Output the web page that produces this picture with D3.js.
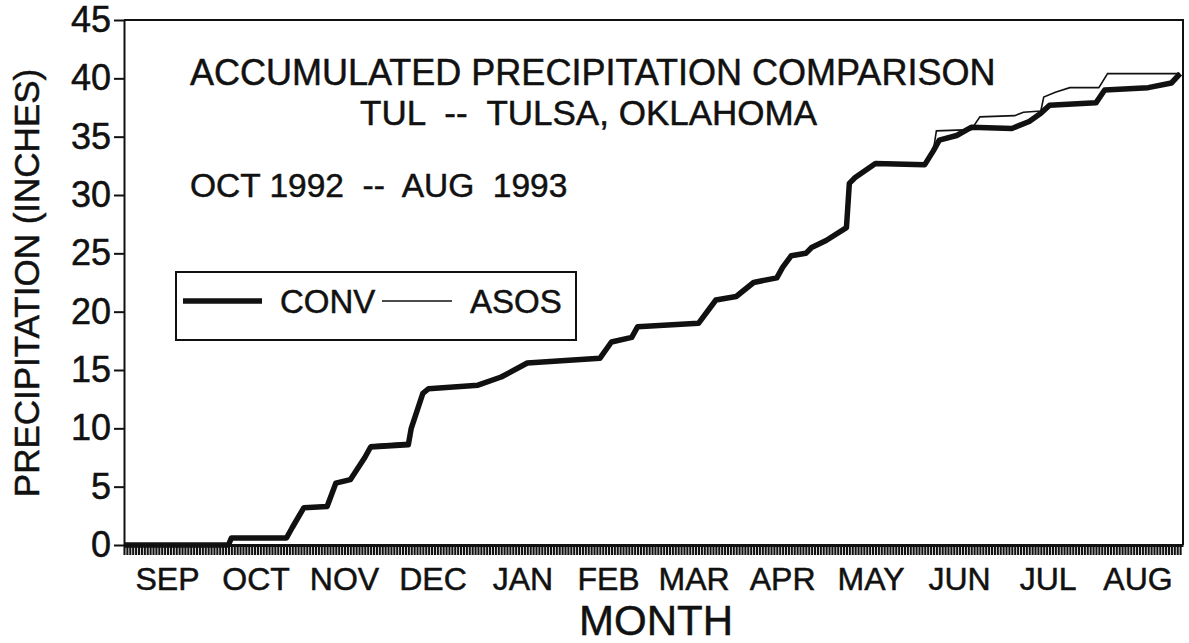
<!DOCTYPE html>
<html>
<head>
<meta charset="utf-8">
<script src="https://cdn.jsdelivr.net/npm/d3@7"></script>
<style>
  body { margin: 0; background: #fff; }
  text { font-family: "Liberation Sans", Arial, sans-serif; fill: #111; stroke: #111; stroke-width: 0.5px; }
</style>
</head>
<body>
<div id="chart"></div>
<script>
// month labels along the bottom
var months = ["SEP", "OCT", "NOV", "DEC", "JAN", "FEB", "MAR", "APR", "MAY", "JUN", "JUL", "AUG"];
var monthStarts = ["1992-09-01", "1992-10-01", "1992-11-01", "1992-12-01", "1993-01-01", "1993-02-01",
                   "1993-03-01", "1993-04-01", "1993-05-01", "1993-06-01", "1993-07-01", "1993-08-01", "1993-09-01"];
var yTicks = [0, 5, 10, 15, 20, 25, 30, 35, 40, 45];

// CONV accumulated precipitation (inches)
var convDates = ["1992-09-01", "1992-10-07", "1992-10-08", "1992-10-27", "1992-10-29", "1992-11-02", "1992-11-10",
                 "1992-11-13", "1992-11-18", "1992-11-23", "1992-11-25", "1992-12-08", "1992-12-09", "1992-12-13",
                 "1992-12-15", "1993-01-01", "1993-01-09", "1993-01-18", "1993-02-12", "1993-02-16", "1993-02-23",
                 "1993-02-25", "1993-03-18", "1993-03-24", "1993-03-31", "1993-04-06", "1993-04-14", "1993-04-16",
                 "1993-04-19", "1993-04-24", "1993-04-26", "1993-05-01", "1993-05-08", "1993-05-09", "1993-05-11",
                 "1993-05-18", "1993-06-04", "1993-06-07", "1993-06-09", "1993-06-15", "1993-06-20", "1993-07-04",
                 "1993-07-10", "1993-07-14", "1993-07-17", "1993-08-02", "1993-08-05", "1993-08-20", "1993-08-28",
                 "1993-08-31"];
var convValues = [0, 0, 0.6, 0.6, 1.5, 3.2, 3.3,
                  5.3, 5.6, 7.5, 8.4, 8.6, 10.0, 13.0,
                  13.4, 13.7, 14.4, 15.6, 16.0, 17.4, 17.8,
                  18.7, 19.0, 21.0, 21.3, 22.5, 22.9, 23.8,
                  24.8, 25.0, 25.5, 26.1, 27.2, 31.0, 31.5,
                  32.7, 32.6, 33.8, 34.7, 35.1, 35.8, 35.7,
                  36.3, 37.0, 37.7, 37.9, 39.0, 39.2, 39.6,
                  40.4];

// ASOS accumulated precipitation (inches)
var asosDates = ["1992-09-01", "1992-10-07", "1992-10-08", "1992-10-27", "1992-10-29", "1992-11-02", "1992-11-10",
                 "1992-11-13", "1992-11-18", "1992-11-23", "1992-11-25", "1992-12-08", "1992-12-09", "1992-12-13",
                 "1992-12-15", "1993-01-01", "1993-01-09", "1993-01-18", "1993-02-12", "1993-02-16", "1993-02-23",
                 "1993-02-25", "1993-03-18", "1993-03-24", "1993-03-31", "1993-04-06", "1993-04-14", "1993-04-16",
                 "1993-04-19", "1993-04-24", "1993-04-26", "1993-05-01", "1993-05-08", "1993-05-09", "1993-05-11",
                 "1993-05-18", "1993-06-04", "1993-06-07", "1993-06-08", "1993-06-20", "1993-06-23", "1993-07-05",
                 "1993-07-08", "1993-07-14", "1993-07-15", "1993-07-19", "1993-07-24", "1993-08-03", "1993-08-06",
                 "1993-08-31"];
var asosValues = [0, 0, 0.7, 0.7, 1.6, 3.3, 3.4,
                  5.4, 5.7, 7.6, 8.6, 8.8, 10.1, 13.1,
                  13.5, 13.8, 14.5, 15.7, 16.1, 17.5, 17.9,
                  18.8, 19.1, 21.1, 21.4, 22.6, 23.0, 23.9,
                  24.9, 25.1, 25.6, 26.2, 27.3, 31.1, 31.6,
                  32.8, 32.7, 33.9, 35.5, 35.6, 36.7, 36.8,
                  37.1, 37.2, 38.4, 38.8, 39.2, 39.2, 40.4,
                  40.4];

function createChart() {
  var svgWidth = 1189;
  var svgHeight = 643;
  var left = 124, right = 1183, top = 20, bottom = 545;
  var parse = d3.timeParse("%Y-%m-%d");

  var svg = d3.select("#chart")
              .append("svg")
              .attr("width", svgWidth)
              .attr("height", svgHeight);

  var x = d3.scaleTime()
            .domain([parse(monthStarts[0]), parse(monthStarts[monthStarts.length - 1])])
            .range([left, right]);
  var y = d3.scaleLinear()
            .domain([0, 45])
            .range([bottom, top]);

  // frame top and right
  svg.append("path")
     .attr("d", "M" + left + "," + top + "H" + right + "V" + bottom)
     .attr("fill", "none")
     .attr("stroke", "#111")
     .attr("stroke-width", 2);

  // y axis
  var yAxis = svg.append("g")
     .attr("transform", "translate(" + left + ",0)")
     .call(d3.axisLeft(y).tickValues(yTicks).tickSize(10).tickPadding(3).tickSizeOuter(0));
  yAxis.select(".domain").attr("stroke", "#111").attr("stroke-width", 2);
  yAxis.selectAll(".tick line").attr("stroke", "#111").attr("stroke-width", 2);
  yAxis.selectAll(".tick text")
       .attr("font-size", 36)
       .attr("font-family", "Liberation Sans, Arial, sans-serif")
       .attr("fill", "#111");

  // x axis with a tick for every day
  var days = d3.timeDay.range(x.domain()[0], x.domain()[1]);
  var xAxis = svg.append("g")
     .attr("transform", "translate(0," + bottom + ")")
     .call(d3.axisBottom(x).tickValues(days).tickSize(10).tickFormat("").tickSizeOuter(0));
  xAxis.select(".domain").attr("stroke", "#111").attr("stroke-width", 3);
  xAxis.selectAll(".tick line").attr("stroke", "#111").attr("stroke-width", 2.1);

  // month names centred in each month
  svg.selectAll("text.month")
     .data(months)
     .enter()
     .append("text")
     .attr("class", "month")
     .text(function(d) { return d; })
     .attr("x", function(d, i) {
       return (x(parse(monthStarts[i])) + x(parse(monthStarts[i + 1]))) / 2;
     })
     .attr("y", 590)
     .attr("font-size", 32)
     .attr("text-anchor", "middle");

  svg.append("text")
     .text("MONTH")
     .attr("x", 656)
     .attr("y", 635)
     .attr("font-size", 42)
     .attr("text-anchor", "middle");

  svg.append("text")
     .text("PRECIPITATION (INCHES)")
     .attr("transform", "translate(39,283) rotate(-90)")
     .attr("font-size", 35)
     .attr("text-anchor", "middle");

  // titles
  svg.append("text")
     .text("ACCUMULATED PRECIPITATION COMPARISON")
     .attr("x", 190).attr("y", 85)
     .attr("font-size", 36);
  svg.append("text")
     .text("TUL  --  TULSA, OKLAHOMA")
     .attr("x", 360).attr("y", 125)
     .attr("font-size", 35)
     .style("white-space", "pre");
  svg.append("text")
     .text("OCT 1992  --  AUG  1993")
     .attr("x", 190).attr("y", 197)
     .attr("font-size", 33.5)
     .style("white-space", "pre");

  // series
  var conv = convDates.map(function(d, i) { return { date: parse(d), v: convValues[i] }; });
  var asos = asosDates.map(function(d, i) { return { date: parse(d), v: asosValues[i] }; });

  var line = d3.line()
               .x(function(d) { return x(d.date); })
               .y(function(d) { return y(d.v); });

  svg.append("path")
     .datum(conv)
     .attr("d", line)
     .attr("fill", "none")
     .attr("stroke", "#111")
     .attr("stroke-width", 5.5)
     .attr("stroke-linejoin", "round");

  svg.append("path")
     .datum(asos)
     .attr("d", line)
     .attr("fill", "none")
     .attr("stroke", "#111")
     .attr("stroke-width", 1.6);

  // legend
  var legend = svg.append("g");
  legend.append("rect")
        .attr("x", 176).attr("y", 272)
        .attr("width", 400).attr("height", 68)
        .attr("fill", "#fff")
        .attr("stroke", "#111")
        .attr("stroke-width", 2);
  legend.append("line")
        .attr("x1", 183).attr("x2", 262).attr("y1", 301).attr("y2", 301)
        .attr("stroke", "#111").attr("stroke-width", 5.5);
  legend.append("text").text("CONV")
        .attr("x", 280).attr("y", 313).attr("font-size", 33);
  legend.append("line")
        .attr("x1", 382).attr("x2", 452).attr("y1", 301).attr("y2", 301)
        .attr("stroke", "#111").attr("stroke-width", 1.6);
  legend.append("text").text("ASOS")
        .attr("x", 470).attr("y", 313).attr("font-size", 33);
}

createChart();
</script>
</body>
</html>
